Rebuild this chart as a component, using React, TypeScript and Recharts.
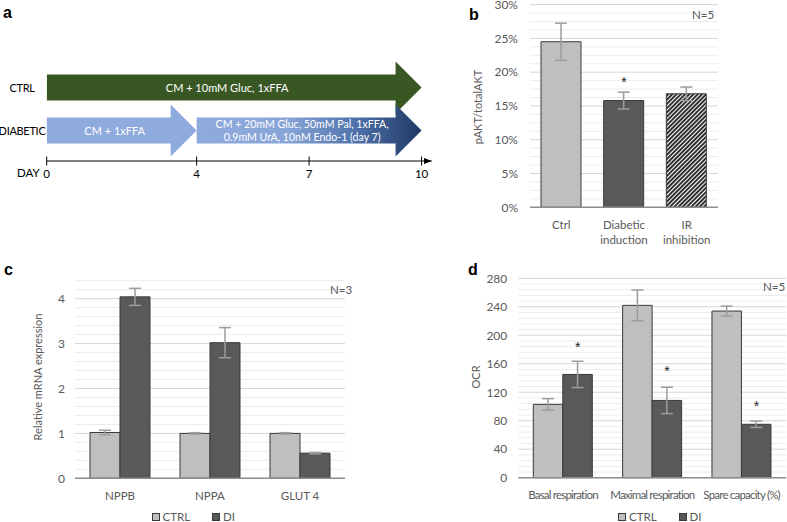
import React from 'react';
import {
  ComposedChart,
  BarChart,
  Bar,
  XAxis,
  YAxis,
  ErrorBar,
  Cell,
  Scatter,
  Legend,
  ReferenceLine,
} from 'recharts';

// ---------- Panel a: timeline ----------
const timelineRows = ['CTRL', 'DIABETIC'];
const phase1Days = [10, 4];
const phase2Days = [0, 6];
const phase1Labels = [['CM + 10mM Gluc, 1xFFA'], ['CM + 1xFFA']];
const phase2Labels = [[], ['CM + 20mM Gluc, 50mM Pal, 1xFFA,', '0.9mM UrA, 10nM Endo-1 (day 7)']];
const dayTicks = [0, 4, 7, 10];

// ---------- Panel b: pAKT/totalAKT ----------
const aktCategories = ['Ctrl', 'Diabetic\ninduction', 'IR\ninhibition'];
const aktValues = [0.245, 0.158, 0.168];
const aktErrors = [0.0275, 0.0125, 0.01];
const aktStars = [null, 0.19, null];
const aktTicks = [0, 0.05, 0.1, 0.15, 0.2, 0.25, 0.3];

// ---------- Panel c: mRNA ----------
const genes = ['NPPB', 'NPPA', 'GLUT 4'];
const geneCtrl = [1.02, 1.0, 1.0];
const geneCtrlErr = [0.05, 0.015, 0.015];
const geneDi = [4.04, 3.02, 0.56];
const geneDiErr = [0.19, 0.335, 0.015];
const geneTicks = [0, 1, 2, 3, 4];

// ---------- Panel d: OCR ----------
const ocrCategories = ['Basal respiration', 'Maximal respiration', 'Spare capacity (%)'];
const ocrCtrl = [103, 242, 234];
const ocrCtrlErr = [8, 21.5, 7];
const ocrDi = [145, 108.5, 75];
const ocrDiErr = [18.5, 18.5, 4.5];
const ocrStars = [188, 154, 105];
const ocrTicks = [0, 40, 80, 120, 160, 200, 240, 280];

// ---------- styles ----------
const FONT = 'Lato, "Liberation Sans", sans-serif';
const TXT = '#595959';
const CTRL_FILL = '#bfbfbf';
const DI_FILL = '#595959';
const BAR_STROKE = '#3a3a3a';
const ERR_STROKE = '#9c9c9c';
const AXIS_STROKE = '#8c8c8c';
const MAJOR_GRID = '#d6d6d6';
const MINOR_GRID = '#ececec';
const phase1Fills = ['#385723', '#8faadc'];

const gridValues = (max: number, step: number) => {
  const out: number[] = [];
  for (let v = step; v <= max + 1e-9; v += step) out.push(+v.toFixed(6));
  return out;
};

const timelineData = timelineRows.map((row, i) => ({ row, phase1: phase1Days[i], phase2: phase2Days[i] }));
const aktData = aktCategories.map((name, i) => ({ name, value: aktValues[i], err: aktErrors[i], star: aktStars[i] }));
const aktFills = [CTRL_FILL, DI_FILL, 'url(#hatch)'];
const geneData = genes.map((name, i) => ({ name, ctrl: geneCtrl[i], ctrlErr: geneCtrlErr[i], di: geneDi[i], diErr: geneDiErr[i] }));
const ocrData = ocrCategories.map((name, i) => ({ name, ctrl: ocrCtrl[i], ctrlErr: ocrCtrlErr[i], di: ocrDi[i], diErr: ocrDiErr[i], star: ocrStars[i] }));

const isMajor = (v: number, majors: number[]) => majors.some((m) => Math.abs(m - v) < 1e-6);
const gridLines = (max: number, step: number, majors: number[]) =>
  gridValues(max, step).map((v) => (
    <ReferenceLine
      key={'g' + v}
      y={v}
      stroke={isMajor(v, majors) ? MAJOR_GRID : MINOR_GRID}
      strokeWidth={1}
      {...({ zIndex: 100 } as any)}
    />
  ));

// ---------- shapes ----------
const HEAD = 26;
const makeArrow = (phase: number) => (props: any) => {
  const { x, y, width, height, payload } = props;
  if (!width || width <= 0.5) return null;
  const idx = timelineRows.indexOf(payload.row);
  const cy = y + height / 2;
  const half = height;
  const bodyEnd = x + width - HEAD;
  const d = `M${x},${y} L${bodyEnd},${y} L${bodyEnd},${cy - half} L${x + width},${cy} L${bodyEnd},${cy + half} L${bodyEnd},${y + height} L${x},${y + height} Z`;
  const fill = phase === 1 ? phase1Fills[idx] : 'url(#diabGrad)';
  const lines = phase === 1 ? phase1Labels[idx] : phase2Labels[idx];
  const tx = x + (width - HEAD) / 2 + 6;
  const lh = 12.7;
  const fs = lines.length > 1 ? 10.6 : 11;
  return (
    <g>
      <path d={d} fill={fill} />
      {lines.map((t: string, k: number) => (
        <text
          key={k}
          x={tx}
          y={cy + (k - (lines.length - 1) / 2) * lh}
          textAnchor="middle"
          dominantBaseline="central"
          fill="#ffffff"
          fontSize={fs}
          fontFamily={FONT}
        >
          {t}
        </text>
      ))}
    </g>
  );
};

const DayTick = (props: any) => {
  const { x, y, payload } = props;
  return (
    <g>
      <line x1={x} x2={x} y1={y - 4.5} y2={y + 4.5} stroke="#000" strokeWidth={1} />
      <text x={x} y={y + 12.5} textAnchor="middle" dominantBaseline="central" fontSize={11.5} fontFamily={FONT} fill="#000">
        {payload.value}
      </text>
    </g>
  );
};

const RowTick = (props: any) => {
  const { y, payload } = props;
  return (
    <text x={22} y={y} textAnchor="middle" dominantBaseline="central" fontSize={11} letterSpacing={-0.3} fontFamily={FONT} fill="#000">
      {payload.value}
    </text>
  );
};

const CatTick = (props: any) => {
  const { x, y, payload, spacing } = props;
  const lines = String(payload.value).split('\n');
  return (
    <g>
      {lines.map((t: string, k: number) => (
        <text
          key={k}
          x={x}
          y={y + 16.7 + k * 15}
          textAnchor="middle"
          dominantBaseline="central"
          fontSize={11.5}
          fontFamily={FONT}
          fill={TXT}
          letterSpacing={spacing || 0}
        >
          {t}
        </text>
      ))}
    </g>
  );
};

const StarShape = (props: any) => {
  const { cx, cy, dx } = props;
  if (cx == null || cy == null || Number.isNaN(cy)) return null;
  return (
    <text x={cx + (dx || 0)} y={cy + 8} textAnchor="middle" fontSize={14} fontFamily='"Liberation Sans", sans-serif' fill="#222">
      *
    </text>
  );
};

const LegendContent = (props: any) => {
  const items = (props.payload || []).filter((p: any) => p.type !== 'none');
  return (
    <div style={{ display: 'flex', alignItems: 'center', fontFamily: FONT, fontSize: 11.5, color: TXT, lineHeight: '14px' }}>
      {items.map((it: any, i: number) => (
        <span key={i} style={{ display: 'flex', alignItems: 'center', marginRight: 22 }}>
          <span style={{ width: 6, height: 6, background: it.color, border: `1px solid ${BAR_STROKE}`, marginRight: 3, display: 'inline-block' }} />
          {it.value}
        </span>
      ))}
    </div>
  );
};

const abs = (left: number, top: number): React.CSSProperties => ({ position: 'absolute', left, top });

const VTitle = ({ cx, cy, text }: { cx: number; cy: number; text: string }) => (
  <div
    style={{
      position: 'absolute',
      left: cx,
      top: cy,
      transform: 'translate(-50%, -50%) rotate(-90deg)',
      whiteSpace: 'nowrap',
      fontFamily: FONT,
      fontSize: 11,
      color: TXT,
      lineHeight: '14px',
    }}
  >
    {text}
  </div>
);

const Letter = ({ x, y, t }: { x: number; y: number; t: string }) => (
  <div style={{ position: 'absolute', left: x, top: y, fontFamily: '"Liberation Sans", Arial, sans-serif', fontWeight: 700, fontSize: 16, lineHeight: '16px', color: '#000' }}>
    {t}
  </div>
);

const SmallText = ({ x, y, t, color }: { x: number; y: number; t: string; color?: string }) => (
  <div style={{ position: 'absolute', left: x, top: y, fontFamily: FONT, fontSize: 11.5, lineHeight: '14px', color: color || TXT, whiteSpace: 'nowrap' }}>
    {t}
  </div>
);

const pct = (v: number) => `${Math.round(v * 100)}%`;

export default function App() {
  return (
    <div style={{ position: 'absolute', left: 0, top: 0, width: 787, height: 522, background: '#fff', overflow: 'hidden' }}>
      {/* Panel a */}
      <div style={abs(0, 0)}>
        <BarChart
          layout="vertical"
          width={440}
          height={200}
          data={timelineData}
          margin={{ top: 65.5, right: 8.3, bottom: 9, left: 0 }}
          barCategoryGap={0}
        >
          <defs>
            <linearGradient id="diabGrad" x1="0" y1="0" x2="1" y2="0">
              <stop offset="0" stopColor="#8faadc" />
              <stop offset="0.4" stopColor="#89a5d8" />
              <stop offset="0.7" stopColor="#5073ad" />
              <stop offset="1" stopColor="#1f3864" />
            </linearGradient>
            <marker id="dayArrow" markerWidth="8" markerHeight="6" refX="8" refY="3" orient="auto" markerUnits="userSpaceOnUse">
              <path d="M0,0 L8,3 L0,6 Z" fill="#000" />
            </marker>
          </defs>
          <XAxis
            type="number"
            domain={[0, 10.27]}
            ticks={dayTicks}
            interval={0}
            height={30}
            tickSize={0}
            tickMargin={0}
            tickLine={false}
            tick={<DayTick />}
            axisLine={{ stroke: '#000', strokeWidth: 1, markerEnd: 'url(#dayArrow)' } as any}
            allowDataOverflow
          />
          <YAxis
            type="category"
            dataKey="row"
            width={46.7}
            axisLine={false}
            tickLine={false}
            tick={<RowTick />}
            padding={{ top: 0, bottom: 9.5 }}
          />
          <Bar dataKey="phase1" stackId="t" barSize={26} shape={makeArrow(1)} isAnimationActive={false} />
          <Bar dataKey="phase2" stackId="t" barSize={26} shape={makeArrow(2)} isAnimationActive={false} />
        </BarChart>
      </div>
      <Letter x={3} y={5} t="a" />
      <SmallText x={17} y={166} t="DAY" color="#000" />

      {/* Panel b */}
      <div style={abs(440, -10)}>
        <ComposedChart width={347} height={270} data={aktData} margin={{ top: 14.6, right: 69, bottom: 12.7, left: 40 }}>
          <defs>
            <pattern id="hatch" width="3" height="3" patternUnits="userSpaceOnUse" patternTransform="rotate(45)">
              <rect width="3" height="3" fill="#ffffff" />
              <rect x="0" y="0" width="1.9" height="3" fill="#262626" />
            </pattern>
          </defs>
          {gridLines(0.3, 0.0125, aktTicks)}
          <XAxis
            dataKey="name"
            height={40}
            interval={0}
            tickSize={0}
            tickMargin={0}
            tickLine={false}
            tick={<CatTick />}
            axisLine={{ stroke: AXIS_STROKE, strokeWidth: 1.5 }}
          />
          <YAxis
            domain={[0, 0.3]}
            ticks={aktTicks}
            tickFormatter={pct}
            width={50}
            axisLine={false}
            tickLine={false}
            tickSize={0}
            tickMargin={12}
            tick={{ fill: TXT, fontSize: 12, fontFamily: FONT }}
          />
          <Bar dataKey="value" barSize={40} stroke={BAR_STROKE} strokeWidth={1} isAnimationActive={false}>
            {aktData.map((d, i) => (
              <Cell key={i} fill={aktFills[i]} />
            ))}
            <ErrorBar dataKey="err" width={6} stroke={ERR_STROKE} strokeWidth={1.5} isAnimationActive={false} />
          </Bar>
          <Scatter dataKey="star" legendType="none" shape={<StarShape dx={0} />} isAnimationActive={false} />
        </ComposedChart>
      </div>
      <Letter x={469} y={7} t="b" />
      <SmallText x={692} y={8} t="N=5" />
      <VTitle cx={478} cy={107} text="pAKT/totalAKT" />

      {/* Panel c */}
      <div style={abs(0, 260)}>
        <ComposedChart width={400} height={262} data={geneData} margin={{ top: 20.7, right: 55, bottom: 13.7, left: 30 }} barGap={0}>
          {gridLines(4.4, 0.2, geneTicks)}
          <XAxis
            dataKey="name"
            height={30}
            interval={0}
            tickSize={0}
            tickMargin={0}
            tickLine={false}
            tick={<CatTick />}
            axisLine={{ stroke: AXIS_STROKE, strokeWidth: 1.5 }}
          />
          <YAxis
            domain={[0, 4.4]}
            ticks={geneTicks}
            width={45}
            axisLine={false}
            tickLine={false}
            tickSize={0}
            tickMargin={10}
            tick={{ fill: TXT, fontSize: 12, fontFamily: FONT }}
          />
          <Bar dataKey="ctrl" name="CTRL" fill={CTRL_FILL} stroke={BAR_STROKE} strokeWidth={1} barSize={30} isAnimationActive={false}>
            <ErrorBar dataKey="ctrlErr" width={6} stroke={ERR_STROKE} strokeWidth={1.5} isAnimationActive={false} />
          </Bar>
          <Bar dataKey="di" name="DI" fill={DI_FILL} stroke={BAR_STROKE} strokeWidth={1} barSize={30} isAnimationActive={false}>
            <ErrorBar dataKey="diErr" width={6} stroke={ERR_STROKE} strokeWidth={1.5} isAnimationActive={false} />
          </Bar>
          <Legend
            layout="horizontal"
            verticalAlign="middle"
            align="center"
            content={<LegendContent />}
            wrapperStyle={{ left: 151.5, top: 249.5, width: 'auto' }}
          />
        </ComposedChart>
      </div>
      <Letter x={4} y={262} t="c" />
      <SmallText x={330} y={283} t="N=3" />
      <VTitle cx={38} cy={377} text="Relative mRNA expression" />

      {/* Panel d */}
      <div style={abs(400, 260)}>
        <ComposedChart width={387} height={262} data={ocrData} margin={{ top: 18.3, right: 0.7, bottom: 14.3, left: 73.3 }} barGap={0}>
          {gridLines(280, 8, ocrTicks)}
          <XAxis
            dataKey="name"
            height={30}
            interval={0}
            tickSize={0}
            tickMargin={0}
            tickLine={false}
            tick={<CatTick spacing={-0.8} />}
            axisLine={{ stroke: AXIS_STROKE, strokeWidth: 1.5 }}
          />
          <YAxis
            domain={[0, 280]}
            ticks={ocrTicks}
            width={45}
            axisLine={false}
            tickLine={false}
            tickSize={0}
            tickMargin={11}
            tick={{ fill: TXT, fontSize: 12, fontFamily: FONT }}
          />
          <Bar dataKey="ctrl" name="CTRL" fill={CTRL_FILL} stroke={BAR_STROKE} strokeWidth={1} barSize={29.5} isAnimationActive={false}>
            <ErrorBar dataKey="ctrlErr" width={6} stroke={ERR_STROKE} strokeWidth={1.5} isAnimationActive={false} />
          </Bar>
          <Bar dataKey="di" name="DI" fill={DI_FILL} stroke={BAR_STROKE} strokeWidth={1} barSize={29.5} isAnimationActive={false}>
            <ErrorBar dataKey="diErr" width={6} stroke={ERR_STROKE} strokeWidth={1.5} isAnimationActive={false} />
          </Bar>
          <Scatter dataKey="star" legendType="none" shape={<StarShape dx={14.75} />} isAnimationActive={false} />
          <Legend
            layout="horizontal"
            verticalAlign="middle"
            align="center"
            content={<LegendContent />}
            wrapperStyle={{ left: 218, top: 249.5, width: 'auto' }}
          />
        </ComposedChart>
      </div>
      <Letter x={468} y={262} t="d" />
      <SmallText x={763} y={280} t="N=5" />
      <VTitle cx={476} cy={377} text="OCR" />
    </div>
  );
}
